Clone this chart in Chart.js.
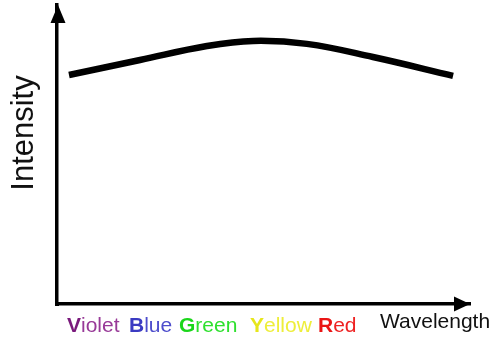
<!DOCTYPE html>
<html>
<head>
<meta charset="utf-8">
<title>Intensity vs Wavelength</title>
<script src="https://cdn.jsdelivr.net/npm/chart.js@4/dist/chart.umd.min.js"></script>
<style>
  html, body { margin: 0; padding: 0; background: #fff; }
  #wrap { position: relative; width: 496px; height: 341px; }
</style>
</head>
<body>
<div id="wrap"><canvas id="spectrumChart"></canvas></div>
<script>
// values (x: 0-100 along wavelength axis, y: 0-100 intensity)
const wavelengths = [2.9, 20.1, 36.3, 47.5, 60.5, 76.5, 95.9];
const intensities = [76.6, 81.6, 86.3, 88.0, 87.0, 82.6, 76.3];
const colorNames = ['Violet', 'Blue', 'Green', 'Yellow', 'Red'];
const xTitle = 'Wavelength';
const yTitle = 'Intensity';

// styles for the colour words: [initial colour, rest colour]
const nameColors = [
  ['#7a1a7c', '#983a98'],
  ['#3b3bc2', '#4d4dcc'],
  ['#1ad61a', '#2ee02e'],
  ['#e6e61a', '#eeee3a'],
  ['#ea1515', '#ee2222']
];
const nameStarts = [67, 129, 179, 250, 318];

document.addEventListener('DOMContentLoaded', () => {
  try {
    const canvas = document.getElementById('spectrumChart');
    if (!canvas) return;
    const ctx = canvas.getContext('2d');

    Chart.defaults.font.family = '"Liberation Sans", Arial, sans-serif';

    // arrow heads and text labels
    const axisDecor = {
      id: 'axisDecor',
      afterDraw(chart) {
        const c = chart.ctx;
        const { left, top, right, bottom } = chart.chartArea;
        c.save();
        c.fillStyle = '#000';

        // fill the corner where the two borders meet
        c.fillRect(left - 2, bottom - 2, 4, 4);

        // up arrow
        c.beginPath();
        c.moveTo(left + 1, top);
        c.lineTo(left - 6.5, top + 18);
        c.lineTo(left + 8.5, top + 18);
        c.closePath();
        c.fill();

        // right arrow
        c.beginPath();
        c.moveTo(right, bottom);
        c.lineTo(right - 16, bottom - 7.5);
        c.lineTo(right - 16, bottom + 7.5);
        c.closePath();
        c.fill();

        // y title
        c.save();
        c.translate(33, 133);
        c.rotate(-Math.PI / 2);
        c.font = '31px "Liberation Sans", Arial, sans-serif';
        c.textAlign = 'center';
        c.textBaseline = 'alphabetic';
        c.fillStyle = '#111';
        c.fillText(yTitle, 0, 0);
        c.restore();

        // colour words under the axis
        c.textAlign = 'left';
        c.textBaseline = 'alphabetic';
        colorNames.forEach((name, i) => {
          let x = nameStarts[i];
          const y = 332;
          c.font = 'bold 21px "Liberation Sans", Arial, sans-serif';
          c.fillStyle = nameColors[i][0];
          c.fillText(name[0], x, y);
          x += c.measureText(name[0]).width;
          c.font = '21px "Liberation Sans", Arial, sans-serif';
          c.fillStyle = nameColors[i][1];
          c.fillText(name.slice(1), x, y);
        });

        // x title
        c.font = '21px "Liberation Sans", Arial, sans-serif';
        c.fillStyle = '#111';
        c.fillText(xTitle, 380, 328);
        c.restore();
      }
    };

    new Chart(ctx, {
      type: 'line',
      data: {
        datasets: [{
          label: yTitle,
          data: wavelengths.map((w, i) => ({ x: w, y: intensities[i] })),
          borderColor: '#000',
          borderWidth: 6.5,
          pointRadius: 0,
          tension: 0.4,
          fill: false
        }]
      },
      options: {
        responsive: true,
        maintainAspectRatio: false,
        animation: false,
        layout: { padding: { left: 57, right: 26, top: 5, bottom: 37 } },
        plugins: {
          legend: { display: false },
          tooltip: { enabled: false }
        },
        scales: {
          x: {
            type: 'linear',
            min: 0,
            max: 100,
            ticks: { display: false },
            grid: { display: false, drawTicks: false },
            border: { display: true, color: '#000', width: 3.5 }
          },
          y: {
            min: 0,
            max: 100,
            ticks: { display: false },
            grid: { display: false, drawTicks: false },
            border: { display: true, color: '#000', width: 3.5 }
          }
        }
      },
      plugins: [axisDecor]
    });
  } catch (err) {
    console.error('Error rendering chart:', err);
  }
});
</script>
</body>
</html>
